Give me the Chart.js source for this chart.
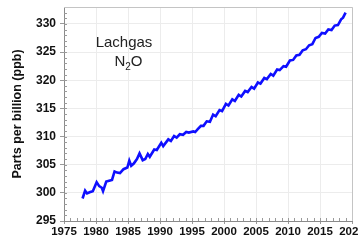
<!DOCTYPE html>
<html>
<head>
<meta charset="utf-8">
<script src="https://cdn.jsdelivr.net/npm/chart.js@4"></script>
<style>
  html, body { margin: 0; padding: 0; background: #fff; }
  #wrap { width: 359px; height: 242px; }
</style>
</head>
<body>
<div id="wrap"><canvas id="n2o"></canvas></div>
<script>
// N2O record (year, ppb)
const years = [1977.9, 1978.3, 1978.6, 1979.0, 1979.5, 1980.1, 1980.5, 1980.9, 1981.1, 1981.6,
  1982.2, 1982.5, 1982.9, 1983.3, 1983.75, 1984.3, 1984.9, 1985.2, 1985.5, 1985.9,
  1986.4, 1986.8, 1987.3, 1987.7, 1988.1, 1988.4, 1989.1, 1989.5, 1990.2, 1990.5,
  1991.3, 1991.7, 1992.2, 1992.6, 1993.1, 1993.6, 1994.1, 1994.5, 1995.2, 1995.5,
  1995.9, 1996.4, 1996.8, 1997.3, 1997.8, 1998.3, 1998.7, 1999.3, 1999.7, 2000.3,
  2000.7, 2001.3, 2001.7, 2002.3, 2002.7, 2003.3, 2003.7, 2004.3, 2004.7, 2005.3,
  2005.7, 2006.3, 2006.7, 2007.3, 2007.7, 2008.3, 2008.7, 2009.3, 2009.7, 2010.3,
  2010.8, 2011.3, 2011.8, 2012.3, 2012.8, 2013.3, 2013.8, 2014.3, 2014.8, 2015.3,
  2015.8, 2016.3, 2016.8, 2017.3, 2017.8, 2018.3, 2018.6, 2019.0];
const ppb = [299.0, 300.4, 299.9, 300.1, 300.3, 301.9, 301.2, 300.9, 300.3, 302.0,
  302.2, 302.3, 303.8, 303.6, 303.5, 304.2, 304.5, 305.7, 304.8, 305.2,
  306.0, 307.0, 305.8, 306.0, 306.9, 306.4, 307.7, 307.6, 308.9, 308.3,
  309.5, 309.2, 310.1, 309.8, 310.4, 310.3, 310.8, 310.7, 310.9, 310.8,
  311.3, 311.9, 311.9, 312.7, 312.6, 313.9, 313.6, 314.7, 314.5, 315.8,
  315.5, 316.6, 316.3, 317.4, 317.1, 318.1, 317.9, 318.8, 318.5, 319.6,
  319.4, 320.4, 320.2, 321.1, 320.8, 321.9, 321.8, 322.5, 322.4, 323.5,
  323.6, 324.4, 324.5, 325.3, 325.5, 326.2, 326.4, 327.5, 327.7, 328.4,
  328.3, 329.0, 328.9, 329.7, 329.8, 330.8, 331.1, 332.0];

const xRange = [1975, 2020];
const yRange = [295, 333];
const yTickStep = 5;

const points = years.map((y, i) => ({ x: y, y: ppb[i] }));

// frame, minor ticks and the label in the corner
const extras = {
  id: 'extras',
  beforeDatasetsDraw(chart) {
    const { ctx, chartArea: a, scales: { x, y } } = chart;
    ctx.save();
    ctx.strokeStyle = '#c4c4c4';
    ctx.lineWidth = 1;
    ctx.beginPath();
    ctx.moveTo(a.left, a.top + 0.5);
    ctx.lineTo(a.right + 0.5, a.top + 0.5);
    ctx.lineTo(a.right + 0.5, a.bottom);
    ctx.stroke();
    ctx.strokeStyle = '#9a9a9a';
    ctx.beginPath();
    for (let v = xRange[0] + 1; v < xRange[1]; v++) {
      const px = Math.round(x.getPixelForValue(v)) + 0.5;
      ctx.moveTo(px, a.bottom);
      ctx.lineTo(px, a.bottom - 3);
    }
    for (let v = yRange[0] + 1; v < yRange[1]; v++) {
      const py = Math.round(y.getPixelForValue(v)) + 0.5;
      ctx.moveTo(a.left, py);
      ctx.lineTo(a.left + 3, py);
    }
    ctx.stroke();
    ctx.restore();
  },
  afterDraw(chart) {
    const { ctx } = chart;
    const big = '15px "Liberation Sans", Arial, sans-serif';
    const small = '10px "Liberation Sans", Arial, sans-serif';
    ctx.save();
    ctx.fillStyle = '#222';
    ctx.textBaseline = 'middle';
    ctx.textAlign = 'center';
    ctx.font = big;
    ctx.fillText('Lachgas', 124, 43);
    ctx.textAlign = 'left';
    const wN = ctx.measureText('N').width;
    const wO = ctx.measureText('O').width;
    ctx.font = small;
    const w2 = ctx.measureText('2').width;
    const sx = 128.5 - (wN + w2 + wO) / 2;
    ctx.font = big;
    ctx.fillText('N', sx, 62);
    ctx.fillText('O', sx + wN + w2, 62);
    ctx.font = small;
    ctx.fillText('2', sx + wN, 67);
    ctx.restore();
  }
};

new Chart(document.getElementById('n2o'), {
  type: 'line',
  data: {
    datasets: [{
      data: points,
      borderColor: '#0f0fff',
      borderWidth: 2.6,
      pointRadius: 0,
      tension: 0,
      fill: false
    }]
  },
  options: {
    responsive: true,
    maintainAspectRatio: false,
    animation: false,
    layout: { padding: { top: 7, right: 7, left: 10, bottom: 0 } },
    plugins: { legend: { display: false }, tooltip: { enabled: false } },
    scales: {
      x: {
        type: 'linear',
        min: xRange[0],
        max: xRange[1],
        afterFit(s) { s.height = 21; s.paddingLeft = 0; s.paddingRight = 0; },
        grid: { color: '#ececec', tickLength: 3, tickColor: '#9a9a9a' },
        border: { color: '#8a8a8a' },
        ticks: {
          stepSize: 5,
          padding: 1,
          maxRotation: 0,
          autoSkip: false,
          color: '#111',
          font: { family: '"Liberation Sans", Arial, sans-serif', size: 11.5, weight: 'bold' },
          callback: v => String(v)
        }
      },
      y: {
        min: yRange[0],
        max: yRange[1],
        afterFit(s) { s.width = 54; s.paddingTop = 0; s.paddingBottom = 0; },
        afterBuildTicks(s) {
          s.ticks = s.ticks.filter(t => t.value % yTickStep === 0);
        },
        grid: { color: '#ececec', tickLength: 4, tickColor: '#9a9a9a' },
        border: { color: '#8a8a8a' },
        title: {
          display: true,
          text: 'Parts per billion (ppb)',
          color: '#111',
          padding: { top: 0, bottom: 0 },
          font: { family: '"Liberation Sans", Arial, sans-serif', size: 12.5, weight: 'bold' }
        },
        ticks: {
          stepSize: 1,
          padding: 4,
          color: '#111',
          font: { family: '"Liberation Sans", Arial, sans-serif', size: 12, weight: 'bold' }
        }
      }
    }
  },
  plugins: [extras]
});
</script>
</body>
</html>
